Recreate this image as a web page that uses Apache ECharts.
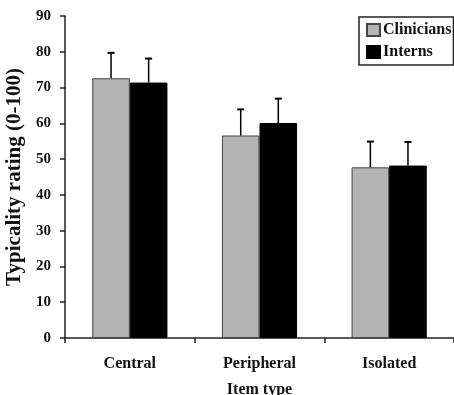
<!DOCTYPE html>
<html>
<head>
<meta charset="utf-8">
<script src="https://cdn.jsdelivr.net/npm/echarts@6/dist/echarts.min.js"></script>
<style>html,body{margin:0;padding:0;background:#fff}#c{width:454px;height:395px}</style>
</head>
<body>
<div id="c"></div>
<script>
var categories = ['Central', 'Peripheral', 'Isolated'];
var clinicians = [72.6, 56.6, 47.7];
var interns = [71.4, 60.1, 48.2];
var cliniciansErr = [7.1, 7.3, 7.2];
var internsErr = [6.7, 6.8, 6.6];
var yTicks = [0, 10, 20, 30, 40, 50, 60, 70, 80, 90];

var FONT = 'Liberation Serif';
var BAR_W = 0.29;
var chart = echarts.init(document.getElementById('c'));

function errData(vals, errs) {
  return vals.map(function (v, i) { return [i, v, v + errs[i]]; });
}
function errRender(side) {
  return function (params, api) {
    var i = api.value(0);
    var base = api.coord([i, api.value(1)]);
    var top = api.coord([i, api.value(2)]);
    var band = api.size([1, 0])[0];
    var x = base[0] + side * band * BAR_W / 2;
    return {
      type: 'group',
      children: [
        { type: 'line', shape: { x1: x, y1: base[1], x2: x, y2: top[1] }, style: { stroke: '#000', lineWidth: 1.5 } },
        { type: 'line', shape: { x1: x - 3.5, y1: top[1], x2: x + 3.5, y2: top[1] }, style: { stroke: '#000', lineWidth: 2 } }
      ]
    };
  };
}

chart.setOption({
  animation: false,
  textStyle: { fontFamily: FONT },
  grid: { left: 65, right: 0, top: 16, bottom: 57, containLabel: false, outerBoundsMode: 'none' },
  legend: {
    data: ['Clinicians', 'Interns'],
    orient: 'vertical',
    left: 359, top: 17,
    padding: [5, 2, 5, 7],
    itemWidth: 13, itemHeight: 12, itemGap: 6,
    borderColor: '#222', borderWidth: 1.5,
    icon: 'rect',
    textStyle: { fontFamily: FONT, fontWeight: 'bold', fontSize: 16, color: '#111', padding: [0, 0, 0, -2] }
  },
  xAxis: {
    type: 'category',
    data: categories,
    name: 'Item type',
    nameLocation: 'middle',
    nameGap: 44,
    nameTextStyle: { fontFamily: FONT, fontWeight: 'bold', fontSize: 16, color: '#111' },
    axisLine: { lineStyle: { color: '#222', width: 1.5 } },
    axisTick: { show: true, length: 5, lineStyle: { color: '#222', width: 1.5 } },
    axisLabel: { fontFamily: FONT, fontWeight: 'bold', fontSize: 16, color: '#111', margin: 18 }
  },
  yAxis: {
    type: 'value',
    min: 0, max: 90, interval: 10,
    name: 'Typicality rating (0-100)',
    nameLocation: 'middle',
    nameGap: 37,
    nameTextStyle: { fontFamily: FONT, fontWeight: 'bold', fontSize: 21, color: '#111' },
    axisLine: { show: true, lineStyle: { color: '#222', width: 1.5 } },
    axisTick: { show: true, length: 5, lineStyle: { color: '#222', width: 1.5 } },
    splitLine: { show: false },
    axisLabel: {
      fontFamily: FONT, fontWeight: 'bold', fontSize: 15, color: '#111', margin: 14,
      formatter: function (v) { return yTicks.indexOf(v) >= 0 ? String(v) : ''; }
    }
  },
  series: [
    {
      name: 'Clinicians', type: 'bar', data: clinicians,
      barWidth: (BAR_W * 100) + '%', barGap: '0%',
      itemStyle: { color: '#b4b4b4', borderColor: '#444', borderWidth: 1 }
    },
    {
      name: 'Interns', type: 'bar', data: interns,
      barWidth: (BAR_W * 100) + '%', barGap: '0%',
      itemStyle: { color: '#000', borderColor: '#000', borderWidth: 1 }
    },
    {
      type: 'custom', data: errData(clinicians, cliniciansErr),
      renderItem: errRender(-1), z: 3, silent: true,
      encode: { x: 0, y: 2 }
    },
    {
      type: 'custom', data: errData(interns, internsErr),
      renderItem: errRender(1), z: 3, silent: true,
      encode: { x: 0, y: 2 }
    }
  ]
});
</script>
</body>
</html>
